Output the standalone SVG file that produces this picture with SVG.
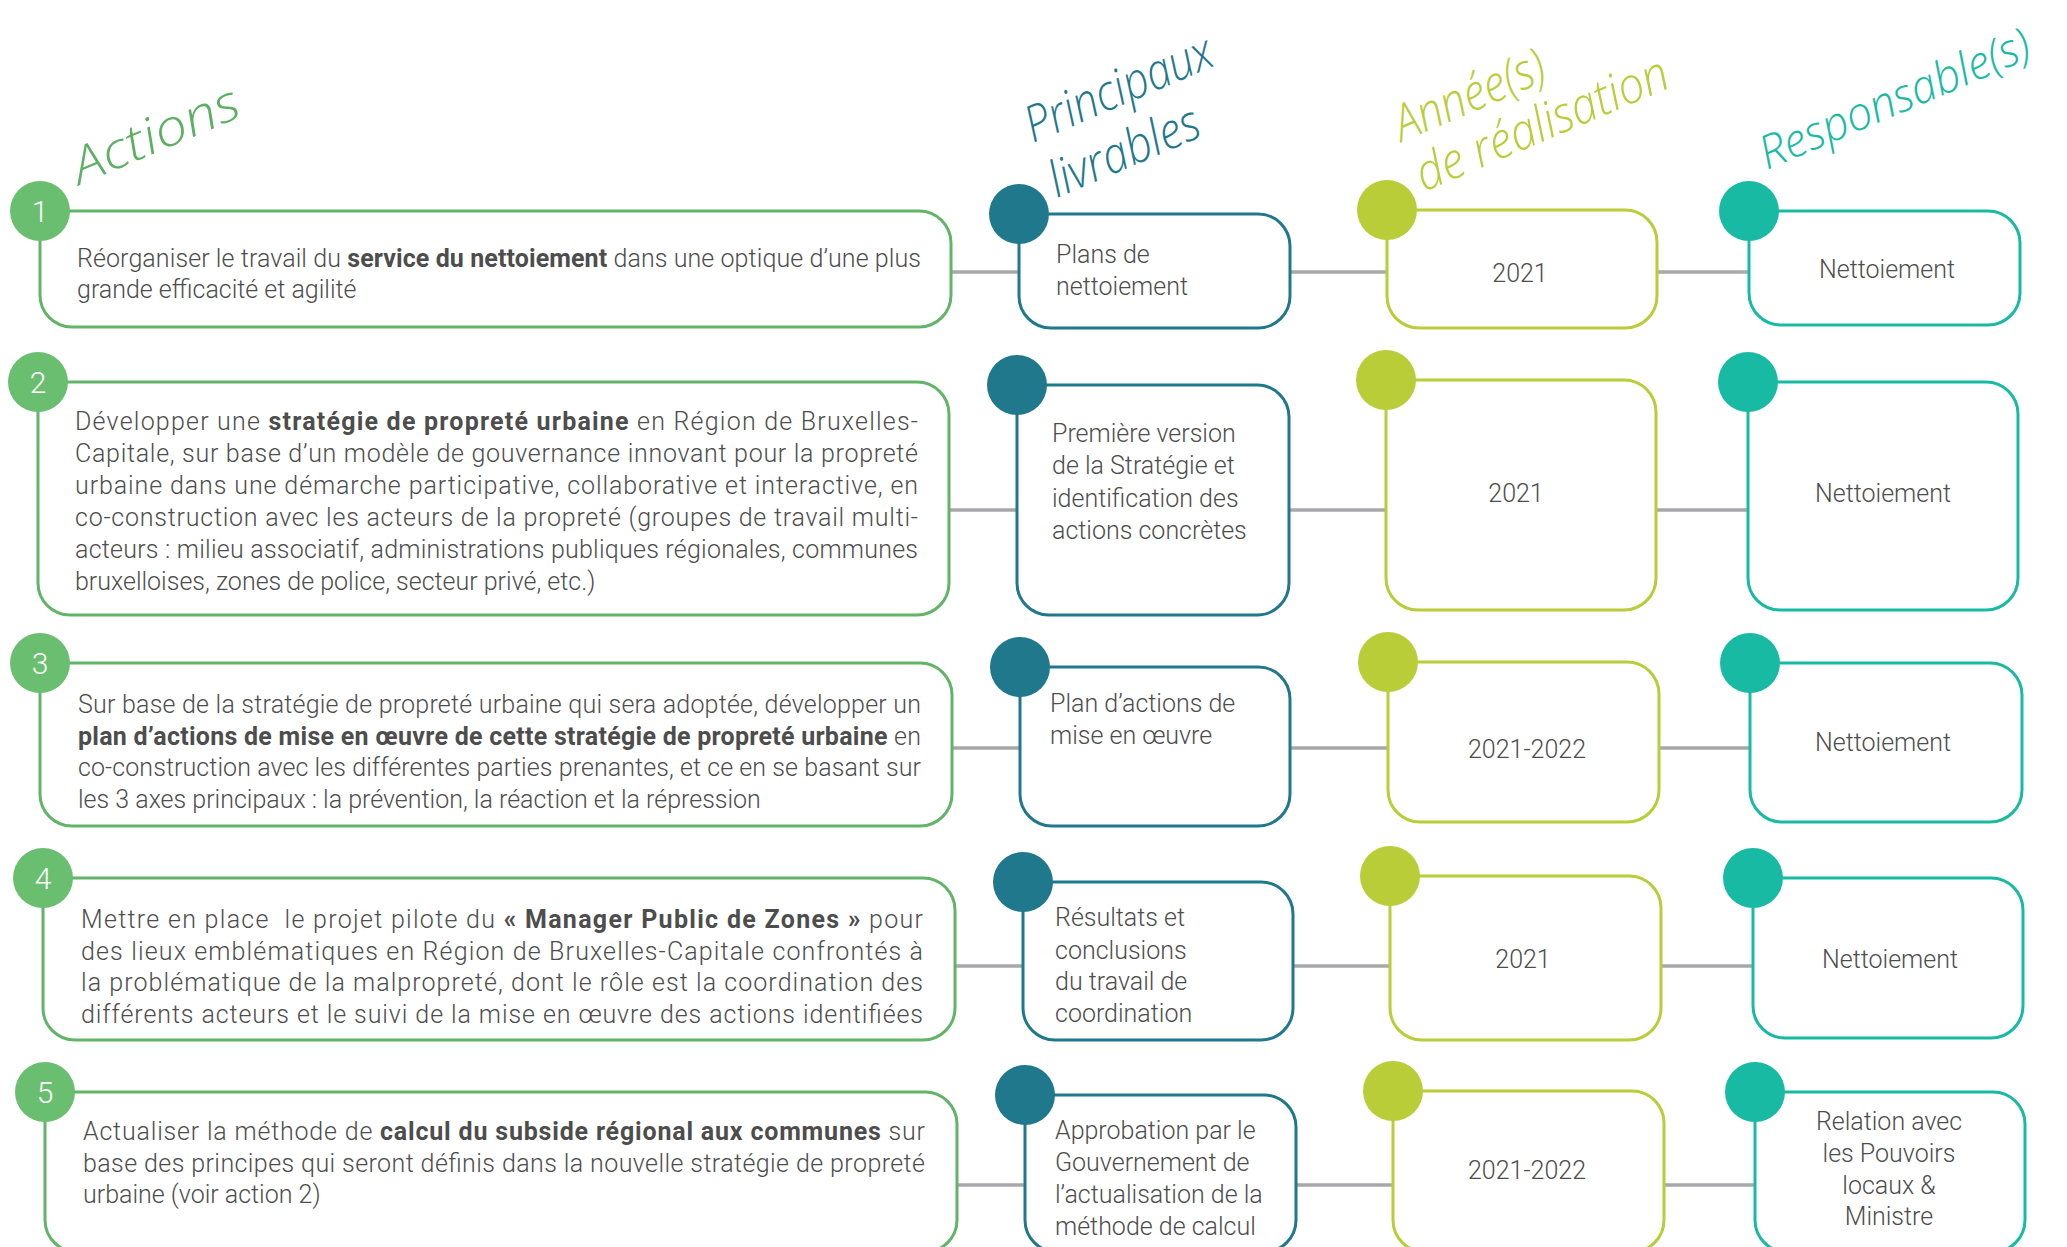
<svg xmlns="http://www.w3.org/2000/svg" width="2067" height="1247" viewBox="0 0 2067 1247">
<defs>
<style>
.bg{fill:#ffffff}
.box{fill:#ffffff;stroke-width:3}
.ga{stroke:#62B468}
.gl{stroke:#1F788C}
.gy{stroke:#B9CD38}
.gr{stroke:#19BAA3}
.ca{fill:#6ABE70}
.cl{fill:#1F788C}
.cy{fill:#B9CD38}
.cr{fill:#19BAA3}
.num{font-family:Roboto,"Liberation Sans",sans-serif;font-weight:300;font-size:30px;fill:#ffffff;text-anchor:middle}
.t{font-family:Roboto,"Liberation Sans",sans-serif;font-weight:300;font-size:25px;fill:#4D4D4D}
.b{font-weight:700}
.mid{text-anchor:middle}
.hd{font-family:"Open Sans","Liberation Sans",sans-serif;font-style:italic;font-weight:300;font-size:50px}
.conn{stroke:#A8A8AB;stroke-width:3.5;fill:none}
</style>
</defs>
<rect class="bg" x="0" y="0" width="2067" height="1247"/>

<g id="headers">
<text class="hd" fill="#5DAF63" transform="translate(80,185) rotate(-23)" textLength="178" lengthAdjust="spacingAndGlyphs">Actions</text>
<text class="hd" fill="#1F788C" transform="translate(1033,143) rotate(-23)" textLength="200" lengthAdjust="spacingAndGlyphs">Principaux</text>
<text class="hd" fill="#1F788C" transform="translate(1057,198) rotate(-23)" textLength="160" lengthAdjust="spacingAndGlyphs">livrables</text>
<text class="hd" fill="#B9CD38" transform="translate(1402,142) rotate(-23)" textLength="160" lengthAdjust="spacingAndGlyphs">Année(s)</text>
<text class="hd" fill="#B9CD38" transform="translate(1424,192) rotate(-23)" textLength="270" lengthAdjust="spacingAndGlyphs">de réalisation</text>
<text class="hd" fill="#19BAA3" style="font-size:46px" transform="translate(1767,170) rotate(-23)" textLength="290" lengthAdjust="spacingAndGlyphs">Responsable(s)</text>
</g>

<g id="connectors">
<path class="conn" d="M951 272H1019M1290 272H1387M1657 272H1749"/>
<path class="conn" d="M949 510H1017M1289 510H1386M1656 510H1748"/>
<path class="conn" d="M952 748H1020M1290 748H1388M1659 748H1750"/>
<path class="conn" d="M955 966H1023M1293 966H1390M1661 966H1753"/>
<path class="conn" d="M957 1185H1025M1296 1185H1393M1664 1185H1755"/>
</g>

<!-- Row 1 -->
<g id="action1">
<path class="box ga" d="M40 211H919A32 32 0 0 1 951 243V295A32 32 0 0 1 919 327H72A32 32 0 0 1 40 295Z"/>
<circle class="ca" cx="40" cy="211" r="30"/>
<text class="num" x="40" y="222">1</text>
<text class="t" x="77" y="267" textLength="844" lengthAdjust="spacing">Réorganiser le travail du <tspan class="b">service du nettoiement</tspan> dans une optique d’une plus</text>
<text class="t" x="77" y="298">grande efficacité et agilité</text>
</g>
<g id="livrable1">
<path class="box gl" d="M1019 214H1258A32 32 0 0 1 1290 246V296A32 32 0 0 1 1258 328H1051A32 32 0 0 1 1019 296Z"/>
<circle class="cl" cx="1019" cy="214" r="30"/>
<text class="t" x="1056" y="263">Plans de</text>
<text class="t" x="1056" y="295">nettoiement</text>
</g>
<g id="annee1">
<path class="box gy" d="M1387 210H1625A32 32 0 0 1 1657 242V296A32 32 0 0 1 1625 328H1419A32 32 0 0 1 1387 296Z"/>
<circle class="cy" cx="1387" cy="210" r="30"/>
<text class="t mid" x="1520" y="282">2021</text>
</g>
<g id="resp1">
<path class="box gr" d="M1749 211H1988A32 32 0 0 1 2020 243V293A32 32 0 0 1 1988 325H1781A32 32 0 0 1 1749 293Z"/>
<circle class="cr" cx="1749" cy="211" r="30"/>
<text class="t mid" x="1887" y="278">Nettoiement</text>
</g>

<!-- Row 2 -->
<g id="action2">
<path class="box ga" d="M38 382H917A32 32 0 0 1 949 414V583A32 32 0 0 1 917 615H70A32 32 0 0 1 38 583Z"/>
<circle class="ca" cx="38" cy="382" r="30"/>
<text class="num" x="38" y="393">2</text>
<text class="t" x="75" y="430" textLength="843" lengthAdjust="spacing">Développer une <tspan class="b">stratégie de propreté urbaine</tspan> en Région de Bruxelles-</text>
<text class="t" x="75" y="462" textLength="843" lengthAdjust="spacing">Capitale, sur base d’un modèle de gouvernance innovant pour la propreté</text>
<text class="t" x="75" y="494" textLength="843" lengthAdjust="spacing">urbaine dans une démarche participative, collaborative et interactive, en</text>
<text class="t" x="75" y="526" textLength="843" lengthAdjust="spacing">co-construction avec les acteurs de la propreté (groupes de travail multi-</text>
<text class="t" x="75" y="558" textLength="843" lengthAdjust="spacing">acteurs : milieu associatif, administrations publiques régionales, communes</text>
<text class="t" x="75" y="590">bruxelloises, zones de police, secteur privé, etc.)</text>
</g>
<g id="livrable2">
<path class="box gl" d="M1017 385H1257A32 32 0 0 1 1289 417V583A32 32 0 0 1 1257 615H1049A32 32 0 0 1 1017 583Z"/>
<circle class="cl" cx="1017" cy="385" r="30"/>
<text class="t" x="1052" y="442">Première version</text>
<text class="t" x="1052" y="474">de la Stratégie et</text>
<text class="t" x="1052" y="507">identification des</text>
<text class="t" x="1052" y="539">actions concrètes</text>
</g>
<g id="annee2">
<path class="box gy" d="M1386 380H1624A32 32 0 0 1 1656 412V578A32 32 0 0 1 1624 610H1418A32 32 0 0 1 1386 578Z"/>
<circle class="cy" cx="1386" cy="380" r="30"/>
<text class="t mid" x="1516" y="502">2021</text>
</g>
<g id="resp2">
<path class="box gr" d="M1748 382H1986A32 32 0 0 1 2018 414V578A32 32 0 0 1 1986 610H1780A32 32 0 0 1 1748 578Z"/>
<circle class="cr" cx="1748" cy="382" r="30"/>
<text class="t mid" x="1883" y="502">Nettoiement</text>
</g>

<!-- Row 3 -->
<g id="action3">
<path class="box ga" d="M40 663H920A32 32 0 0 1 952 695V794A32 32 0 0 1 920 826H72A32 32 0 0 1 40 794Z"/>
<circle class="ca" cx="40" cy="663" r="30"/>
<text class="num" x="40" y="674">3</text>
<text class="t" x="78" y="713" textLength="843" lengthAdjust="spacing">Sur base de la stratégie de propreté urbaine qui sera adoptée, développer un</text>
<text class="t" x="78" y="745" textLength="843" lengthAdjust="spacing"><tspan class="b">plan d’actions de mise en œuvre de cette stratégie de propreté urbaine</tspan> en</text>
<text class="t" x="78" y="776" textLength="843" lengthAdjust="spacing">co-construction avec les différentes parties prenantes, et ce en se basant sur</text>
<text class="t" x="78" y="808">les 3 axes principaux : la prévention, la réaction et la répression</text>
</g>
<g id="livrable3">
<path class="box gl" d="M1020 667H1258A32 32 0 0 1 1290 699V794A32 32 0 0 1 1258 826H1052A32 32 0 0 1 1020 794Z"/>
<circle class="cl" cx="1020" cy="667" r="30"/>
<text class="t" x="1050" y="712">Plan d’actions de</text>
<text class="t" x="1050" y="744">mise en œuvre</text>
</g>
<g id="annee3">
<path class="box gy" d="M1388 662H1627A32 32 0 0 1 1659 694V790A32 32 0 0 1 1627 822H1420A32 32 0 0 1 1388 790Z"/>
<circle class="cy" cx="1388" cy="662" r="30"/>
<text class="t mid" x="1527" y="758">2021-2022</text>
</g>
<g id="resp3">
<path class="box gr" d="M1750 663H1990A32 32 0 0 1 2022 695V790A32 32 0 0 1 1990 822H1782A32 32 0 0 1 1750 790Z"/>
<circle class="cr" cx="1750" cy="663" r="30"/>
<text class="t mid" x="1883" y="751">Nettoiement</text>
</g>

<!-- Row 4 -->
<g id="action4">
<path class="box ga" d="M43 878H923A32 32 0 0 1 955 910V1008A32 32 0 0 1 923 1040H75A32 32 0 0 1 43 1008Z"/>
<circle class="ca" cx="43" cy="878" r="30"/>
<text class="num" x="43" y="889">4</text>
<text class="t" x="81" y="928" textLength="842" lengthAdjust="spacing" xml:space="preserve">Mettre en place  le projet pilote du <tspan class="b">« Manager Public de Zones »</tspan> pour</text>
<text class="t" x="81" y="960" textLength="842" lengthAdjust="spacing">des lieux emblématiques en Région de Bruxelles-Capitale confrontés à</text>
<text class="t" x="81" y="991" textLength="842" lengthAdjust="spacing">la problématique de la malpropreté, dont le rôle est la coordination des</text>
<text class="t" x="81" y="1023" textLength="842" lengthAdjust="spacing">différents acteurs et le suivi de la mise en œuvre des actions identifiées</text>
</g>
<g id="livrable4">
<path class="box gl" d="M1023 882H1261A32 32 0 0 1 1293 914V1008A32 32 0 0 1 1261 1040H1055A32 32 0 0 1 1023 1008Z"/>
<circle class="cl" cx="1023" cy="882" r="30"/>
<text class="t" x="1055" y="926">Résultats et</text>
<text class="t" x="1055" y="959">conclusions</text>
<text class="t" x="1055" y="990">du travail de</text>
<text class="t" x="1055" y="1022">coordination</text>
</g>
<g id="annee4">
<path class="box gy" d="M1390 876H1629A32 32 0 0 1 1661 908V1008A32 32 0 0 1 1629 1040H1422A32 32 0 0 1 1390 1008Z"/>
<circle class="cy" cx="1390" cy="876" r="30"/>
<text class="t mid" x="1523" y="968">2021</text>
</g>
<g id="resp4">
<path class="box gr" d="M1753 878H1991A32 32 0 0 1 2023 910V1006A32 32 0 0 1 1991 1038H1785A32 32 0 0 1 1753 1006Z"/>
<circle class="cr" cx="1753" cy="878" r="30"/>
<text class="t mid" x="1890" y="968">Nettoiement</text>
</g>

<!-- Row 5 -->
<g id="action5">
<path class="box ga" d="M45 1092H925A32 32 0 0 1 957 1124V1220A32 32 0 0 1 925 1252H77A32 32 0 0 1 45 1220Z"/>
<circle class="ca" cx="45" cy="1092" r="30"/>
<text class="num" x="45" y="1103">5</text>
<text class="t" x="83" y="1140" textLength="842" lengthAdjust="spacing">Actualiser la méthode de <tspan class="b">calcul du subside régional aux communes</tspan> sur</text>
<text class="t" x="83" y="1172" textLength="842" lengthAdjust="spacing">base des principes qui seront définis dans la nouvelle stratégie de propreté</text>
<text class="t" x="83" y="1203">urbaine (voir action 2)</text>
</g>
<g id="livrable5">
<path class="box gl" d="M1025 1095H1264A32 32 0 0 1 1296 1127V1220A32 32 0 0 1 1264 1252H1057A32 32 0 0 1 1025 1220Z"/>
<circle class="cl" cx="1025" cy="1095" r="30"/>
<text class="t" x="1055" y="1139">Approbation par le</text>
<text class="t" x="1055" y="1171">Gouvernement de</text>
<text class="t" x="1055" y="1203">l’actualisation de la</text>
<text class="t" x="1055" y="1235">méthode de calcul</text>
</g>
<g id="annee5">
<path class="box gy" d="M1393 1091H1632A32 32 0 0 1 1664 1123V1220A32 32 0 0 1 1632 1252H1425A32 32 0 0 1 1393 1220Z"/>
<circle class="cy" cx="1393" cy="1091" r="30"/>
<text class="t mid" x="1527" y="1179">2021-2022</text>
</g>
<g id="resp5">
<path class="box gr" d="M1755 1092H1993A32 32 0 0 1 2025 1124V1220A32 32 0 0 1 1993 1252H1787A32 32 0 0 1 1755 1220Z"/>
<circle class="cr" cx="1755" cy="1092" r="30"/>
<text class="t mid" x="1889" y="1130">Relation avec</text>
<text class="t mid" x="1889" y="1162">les Pouvoirs</text>
<text class="t mid" x="1889" y="1194">locaux &amp;</text>
<text class="t mid" x="1889" y="1225">Ministre</text>
</g>
</svg>
